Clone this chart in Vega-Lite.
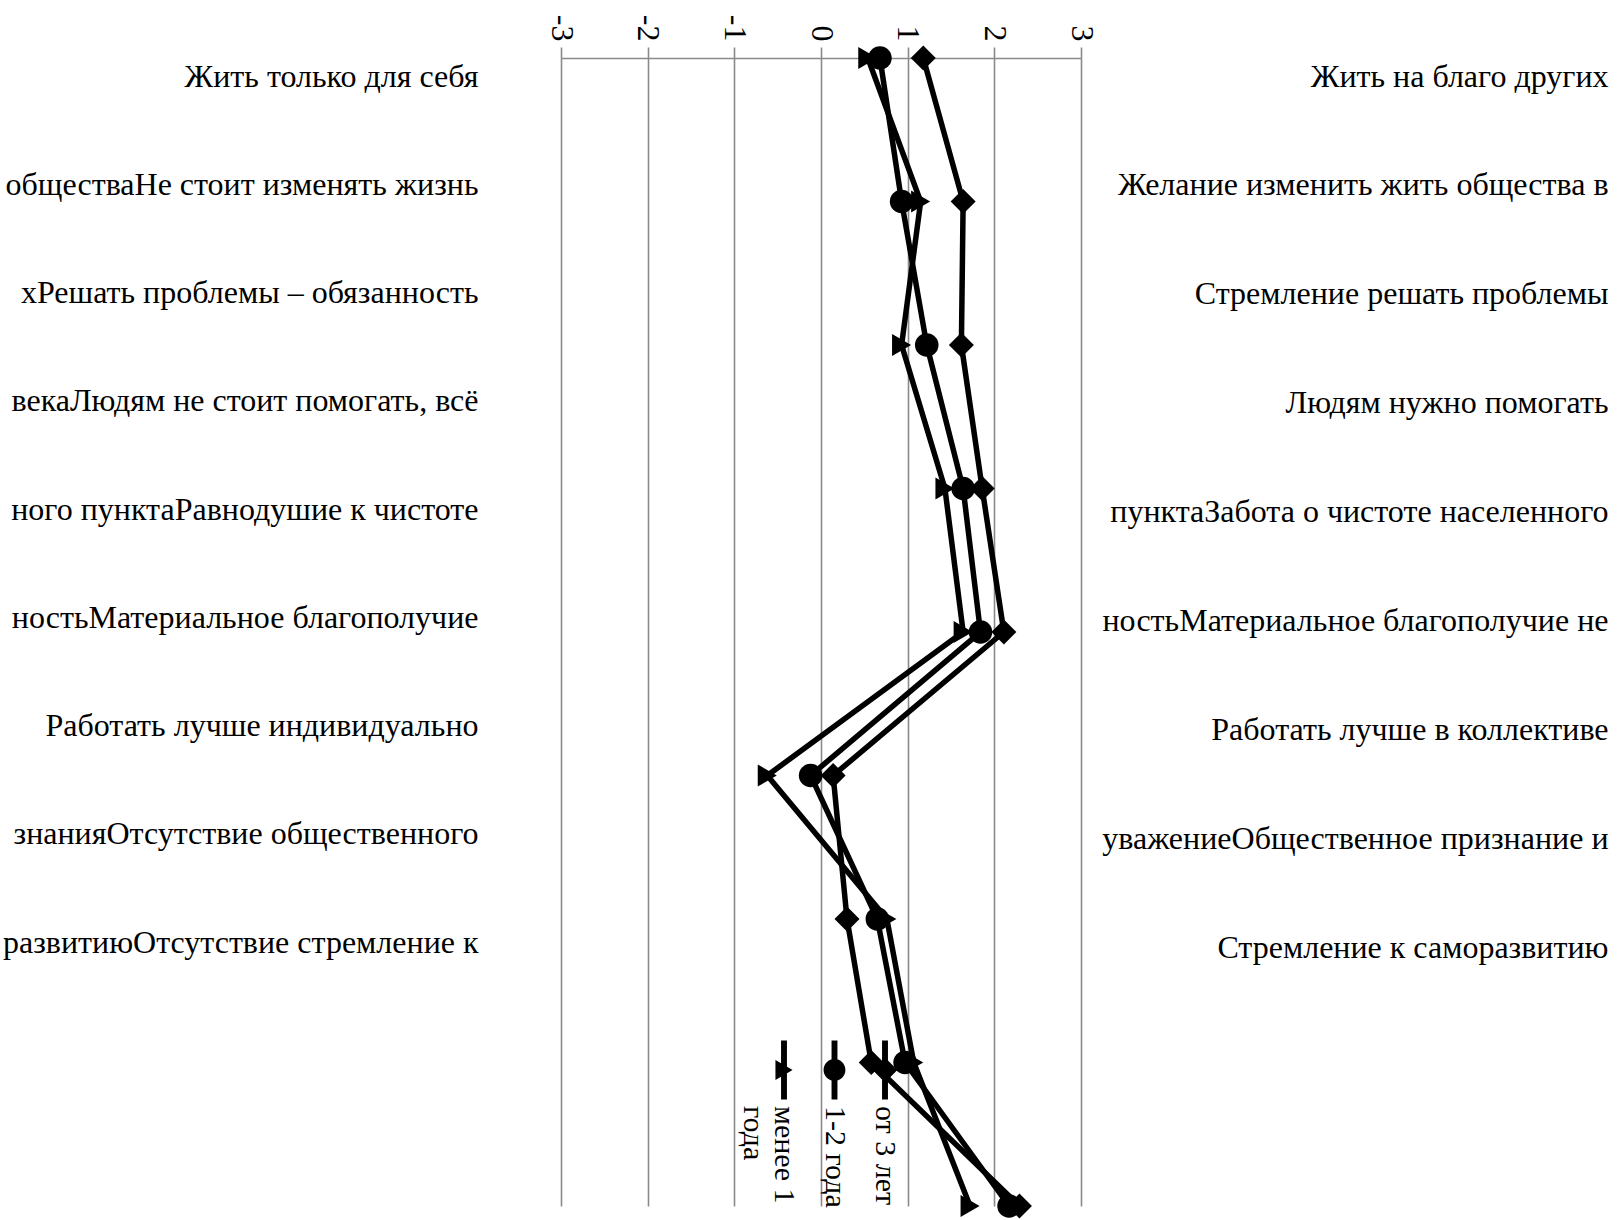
{
  "$schema": "https://vega.github.io/schema/vega-lite/v6.json",
  "width": 520,
  "height": 1148,
  "autosize": {"type": "none"},
  "padding": {"left": 561, "top": 58, "right": 537, "bottom": 14},
  "background": "white",
  "config": {"view": {"stroke": null}, "font": "Liberation Serif"},
  "datasets": {
    "scores": [
      {"row": 1, "series": "от 3 лет", "value": 1.18},
      {"row": 2, "series": "от 3 лет", "value": 1.64},
      {"row": 3, "series": "от 3 лет", "value": 1.62},
      {"row": 4, "series": "от 3 лет", "value": 1.86},
      {"row": 5, "series": "от 3 лет", "value": 2.11},
      {"row": 6, "series": "от 3 лет", "value": 0.14},
      {"row": 7, "series": "от 3 лет", "value": 0.30},
      {"row": 8, "series": "от 3 лет", "value": 0.58},
      {"row": 9, "series": "от 3 лет", "value": 2.29},
      {"row": 1, "series": "1-2 года", "value": 0.68},
      {"row": 2, "series": "1-2 года", "value": 0.93},
      {"row": 3, "series": "1-2 года", "value": 1.22},
      {"row": 4, "series": "1-2 года", "value": 1.64},
      {"row": 5, "series": "1-2 года", "value": 1.84},
      {"row": 6, "series": "1-2 года", "value": -0.12},
      {"row": 7, "series": "1-2 года", "value": 0.65},
      {"row": 8, "series": "1-2 года", "value": 0.97},
      {"row": 9, "series": "1-2 года", "value": 2.17},
      {"row": 1, "series": "менее 1 года", "value": 0.54},
      {"row": 2, "series": "менее 1 года", "value": 1.15},
      {"row": 3, "series": "менее 1 года", "value": 0.93},
      {"row": 4, "series": "менее 1 года", "value": 1.43},
      {"row": 5, "series": "менее 1 года", "value": 1.64},
      {"row": 6, "series": "менее 1 года", "value": -0.62},
      {"row": 7, "series": "менее 1 года", "value": 0.76},
      {"row": 8, "series": "менее 1 года", "value": 1.07},
      {"row": 9, "series": "менее 1 года", "value": 1.72}
    ],
    "labels": [
      {"idx": 1, "left": "Жить только для себя", "right": "Жить на благо других"},
      {"idx": 2, "left": "обществаНе стоит изменять жизнь", "right": "Желание изменить жить общества  в"},
      {"idx": 3, "left": "хРешать проблемы – обязанность", "right": "Стремление решать проблемы"},
      {"idx": 4, "left": "векаЛюдям не стоит помогать, всё", "right": "Людям нужно помогать"},
      {"idx": 5, "left": "ного пунктаРавнодушие к чистоте", "right": "пунктаЗабота о чистоте населенного"},
      {"idx": 6, "left": "ностьМатериальное благополучие", "right": "ностьМатериальное благополучие не"},
      {"idx": 7, "left": "Работать лучше индивидуально", "right": "Работать лучше в коллективе"},
      {"idx": 8, "left": "знанияОтсутствие общественного", "right": "уважениеОбщественное признание и"},
      {"idx": 9, "left": "развитиюОтсутствие стремление к", "right": "Стремление к саморазвитию"}
    ],
    "legend": [
      {"series": "от 3 лет", "text": "от 3 лет"},
      {"series": "1-2 года", "text": "1-2 года"},
      {"series": "менее 1 года", "text": "менее 1\nгода"}
    ]
  },
  "layer": [
    {
      "data": {"name": "scores"},
      "encoding": {
        "x": {
          "field": "value", "type": "quantitative",
          "scale": {"domain": [-3, 3], "nice": false, "zero": false},
          "axis": {
            "orient": "top", "values": [-3, -2, -1, 0, 1, 2, 3], "title": null,
            "grid": true, "gridColor": "#8a8a8a", "gridWidth": 1.6,
            "domainColor": "#8a8a8a", "domainWidth": 1.6,
            "tickColor": "#8a8a8a", "tickWidth": 1.6, "tickSize": 11,
            "labelAngle": 90, "labelAlign": "right", "labelBaseline": "middle",
            "labelPadding": 6, "labelFontSize": 32, "labelFont": "Liberation Serif",
            "labelColor": "black", "labelExpr": "'' + datum.value", "labelFlush": false
          }
        },
        "y": {"field": "row", "type": "ordinal", "scale": {"type": "point", "padding": 0}, "axis": null}
      },
      "layer": [
        {
          "mark": {"type": "line", "color": "black", "strokeWidth": 5.5, "strokeJoin": "miter"},
          "encoding": {"detail": {"field": "series"}, "order": {"field": "row", "type": "quantitative"}}
        },
        {
          "mark": {"type": "point", "filled": true, "color": "black", "opacity": 1, "strokeWidth": 0},
          "encoding": {
            "shape": {"field": "series", "type": "nominal", "scale": {"domain": ["от 3 лет", "1-2 года", "менее 1 года"], "range": ["diamond", "circle", "triangle-right"]}, "legend": null},
            "size": {"field": "series", "type": "nominal", "scale": {"domain": ["от 3 лет", "1-2 года", "менее 1 года"], "range": [625, 484, 400]}, "legend": null}
          }
        }
      ]
    },
    {
      "data": {"name": "labels"},
      "mark": {"type": "point", "opacity": 0},
      "encoding": {
        "y": {
          "field": "left", "type": "nominal", "sort": null,
          "scale": {"type": "point", "padding": 0, "range": [18, 884]},
          "axis": {
            "orient": "left", "title": null, "domain": false, "ticks": false, "tickSize": 0, "grid": false,
            "labelPadding": 83, "labelFontSize": 32, "labelFont": "Liberation Serif", "labelColor": "black",
            "labelLimit": 0, "labelOverlap": false, "labelAlign": "right", "labelBaseline": "middle"
          }
        }
      }
    },
    {
      "data": {"name": "labels"},
      "mark": {"type": "point", "opacity": 0},
      "encoding": {
        "y": {
          "field": "right", "type": "nominal", "sort": null,
          "scale": {"type": "point", "padding": 0, "range": [18, 889]},
          "axis": {
            "orient": "right", "title": null, "domain": false, "ticks": false, "tickSize": 0, "grid": false,
            "labelPadding": 527, "labelFontSize": 32, "labelFont": "Liberation Serif", "labelColor": "black",
            "labelLimit": 0, "labelOverlap": false, "labelAlign": "right", "labelBaseline": "middle"
          }
        }
      }
    },
    {
      "data": {"name": "legend"},
      "encoding": {
        "x": {
          "field": "series", "type": "nominal",
          "scale": {"type": "point", "domain": ["менее 1 года", "1-2 года", "от 3 лет"], "padding": 0, "range": [223, 324]},
          "axis": null
        }
      },
      "layer": [
        {
          "mark": {"type": "point", "filled": true, "color": "black", "opacity": 1, "size": 3481, "strokeWidth": 0},
          "encoding": {
            "y": {"datum": "symbol", "type": "nominal", "scale": {"type": "point", "domain": ["symbol", "label"], "padding": 0, "range": [1012, 1048]}, "axis": null},
            "shape": {
              "field": "series", "type": "nominal",
              "scale": {
                "domain": ["от 3 лет", "1-2 года", "менее 1 года"],
                "range": [
                  "M-0.1,-1H0.1V1H-0.1ZM-0.42,0L0,-0.42L0.42,0L0,0.42Z",
                  "M-0.1,-1H0.1V1H-0.1ZM-0.37,0C-0.37,-0.2044,-0.2044,-0.37,0,-0.37C0.2044,-0.37,0.37,-0.2044,0.37,0C0.37,0.2044,0.2044,0.37,0,0.37C-0.2044,0.37,-0.37,0.2044,-0.37,0Z",
                  "M-0.1,-1H0.1V1H-0.1ZM-0.29,-0.34L0.29,0L-0.29,0.34Z"
                ]
              },
              "legend": null
            }
          }
        },
        {
          "mark": {"type": "text", "angle": 90, "align": "left", "baseline": "top", "dy": -15, "fontSize": 30, "lineHeight": 31, "lineBreak": "\n", "font": "Liberation Serif", "color": "black"},
          "encoding": {
            "y": {"datum": "label", "type": "nominal"},
            "text": {"field": "text", "type": "nominal"}
          }
        }
      ]
    }
  ],
  "resolve": {"scale": {"x": "independent", "y": "independent", "shape": "independent", "size": "independent"}}
}
